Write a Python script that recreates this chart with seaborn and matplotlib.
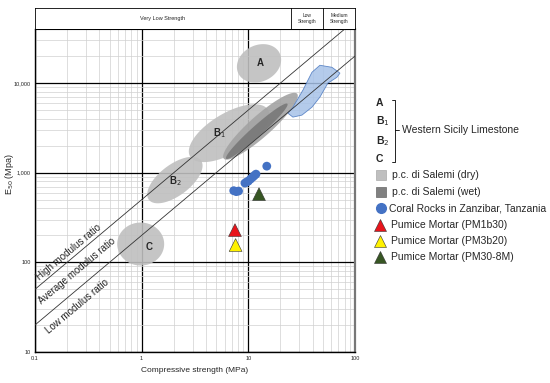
import numpy as np
import pandas as pd
import matplotlib
matplotlib.use("Agg")
import matplotlib.pyplot as plt
from matplotlib.patches import Rectangle
from matplotlib.lines import Line2D
import seaborn as sns

# limestone zones in log space: label, centre UCS, centre E, semi-axes (decades), angle
zone_labels = ["A", "B$_1$", "B$_2$", "C"]
zone_ucs = [12.6, 6.6, 2.05, 0.98]
zone_e = [16600, 2760, 828, 160]
zone_a = [0.23, 0.45, 0.33, 0.24]
zone_b = [0.19, 0.21, 0.16, 0.22]
zone_ang = [50, 38, 45, 90]
# label shift relative to zone centre (multiplicative)
label_dx = [1.02, 0.82, 1.0, 1.2]
label_dy = [1.0, 1.0, 0.98, 0.93]

# p.c. di Salemi (wet) zones
wet_ucs = [13.0, 12.0]
wet_e = [3300, 2900]
wet_a = [0.5, 0.42]
wet_b = [0.11, 0.055]
wet_ang = [47, 47]
wet_colors = ["#a3a3a3", "#787878"]

# blue outlined field
field_ucs = [23.5, 26.2, 32.5, 39.5, 46.9, 60.8, 72.3, 67.7, 55.7, 46.9, 39.5, 31.8, 26.2]
field_e = [4610, 5380, 8340, 13200, 15800, 15000, 12900, 11600, 9980, 6970, 5380, 4390, 4170]

# coral rocks
coral_ucs = [7.3, 7.7, 8.1, 9.3, 9.7, 10.0, 10.5, 11.0, 11.4, 11.8, 14.9]
coral_e = [630, 615, 624, 766, 790, 805, 850, 893, 930, 964, 1183]

# pumice mortars
mortar_names = ["PM1b30", "PM3b20", "PM30-8M"]
mortar_ucs = [7.5, 7.6, 12.6]
mortar_e = [229, 156, 577]
mortar_colors = ["#e8141b", "#fff200", "#375623"]

# modulus ratio lines
ratio_vals = [500, 200]

df_coral = pd.DataFrame({"ucs": coral_ucs, "E": coral_e})
df_mortar = pd.DataFrame({"ucs": mortar_ucs, "E": mortar_e, "name": mortar_names})

sns.set_style("white")
plt.rcParams["font.family"] = ["Liberation Sans", "DejaVu Sans"]

W, H = 550, 383
fig = plt.figure(figsize=(5.5, 3.83), dpi=100)
ax = fig.add_axes([0.0636, 0.081, 0.5818, 0.843])
ax.set_xscale("log")
ax.set_yscale("log")
ax.set_xlim(0.1, 100)
ax.set_ylim(10, 40000)

ax.grid(True, which="minor", color="#d0d0d0", lw=0.5)
ax.grid(True, which="major", color="black", lw=0.9)
ax.set_axisbelow(True)


def ellipse_pts(cx, cy, a, b, ang):
    t = np.linspace(0, 2 * np.pi, 100)
    th = np.deg2rad(ang)
    lx = np.log10(cx) + a * np.cos(t) * np.cos(th) - b * np.sin(t) * np.sin(th)
    ly = np.log10(cy) + a * np.cos(t) * np.sin(th) + b * np.sin(t) * np.cos(th)
    return 10 ** lx, 10 ** ly


for i, lab in enumerate(zone_labels):
    xs, ys = ellipse_pts(zone_ucs[i], zone_e[i], zone_a[i], zone_b[i], zone_ang[i])
    ax.fill(xs, ys, color="#bfbfbf", alpha=0.9, lw=0, zorder=2)
    ax.text(zone_ucs[i] * label_dx[i], zone_e[i] * label_dy[i], lab, fontsize=7,
            fontweight="bold", ha="center", va="center", zorder=5)

for i in range(len(wet_ucs)):
    xs, ys = ellipse_pts(wet_ucs[i], wet_e[i], wet_a[i], wet_b[i], wet_ang[i])
    ax.fill(xs, ys, color=wet_colors[i], alpha=0.9, lw=0, zorder=2)

ax.fill(field_ucs, field_e, facecolor="#a7c2e8", edgecolor="#4a78c0", alpha=0.85,
        lw=0.6, zorder=3)

xline = np.array([0.1, 100])
for r in ratio_vals:
    ax.plot(xline, r * xline, color="#333333", lw=0.6, zorder=4)

ax.text(0.115, 60, "High modulus ratio", rotation=40, rotation_mode="anchor",
        fontsize=7, ha="left", va="bottom")
ax.text(0.118, 33, "Average modulus ratio", rotation=40, rotation_mode="anchor",
        fontsize=7, ha="left", va="bottom")
ax.text(0.122, 18.5, "Low modulus ratio", rotation=40, rotation_mode="anchor",
        fontsize=7, ha="left", va="top")

sns.scatterplot(data=df_coral, x="ucs", y="E", ax=ax, color="#4472c4", s=40,
                edgecolor="none", zorder=6, legend=False)
sns.scatterplot(data=df_mortar, x="ucs", y="E", hue="name", palette=mortar_colors,
                marker="^", s=85, edgecolor="#333333", linewidth=0.4, ax=ax,
                zorder=7, legend=False)

ax.set_xticks([0.1, 1, 10, 100])
ax.set_xticklabels(["0.1", "1", "10", "100"])
ax.set_yticks([10, 100, 1000, 10000])
ax.set_yticklabels(["10", "100", "1,000", "10,000"])
ax.tick_params(axis="both", which="both", labelsize=4, length=0, pad=3)
ax.set_xlabel("Compressive strength (MPa)", fontsize=6, labelpad=4)
ax.set_ylabel("E$_{50}$ (Mpa)", fontsize=6.5)
ax.yaxis.set_label_coords((16 - 35) / 320, (352 - 174) / 323)
for s in ["left", "bottom"]:
    ax.spines[s].set_color("black")
    ax.spines[s].set_linewidth(1)
ax.spines["top"].set_color("black")
ax.spines["top"].set_linewidth(0.8)
ax.spines["right"].set_color("#777777")
ax.spines["right"].set_linewidth(1.6)

# strength header band
hax = fig.add_axes([0.0636, 0.924, 0.5818, 0.055], sharex=ax)
hax.set_ylim(0, 1)
for b in [25, 50]:
    hax.axvline(b, color="black", lw=0.6)
hax.text(np.sqrt(0.1 * 25), 0.5, "Very Low Strength", fontsize=4, ha="center", va="center")
hax.text(np.sqrt(25 * 50), 0.5, "Low\nStrength", fontsize=3.5, ha="center", va="center")
hax.text(np.sqrt(50 * 100), 0.5, "Medium\nStrength", fontsize=3.5, ha="center", va="center")
hax.tick_params(left=False, bottom=False, labelleft=False, labelbottom=False)
hax.grid(False)
for s in hax.spines.values():
    s.set_color("black")
    s.set_linewidth(0.6)


# legend drawn by hand, in pixel positions
def fx(px):
    return px / W


def fy(py):
    return 1 - py / H


for lab, py in zip(["A", "B$_1$", "B$_2$", "C"], [103, 121, 141, 159]):
    fig.text(fx(376), fy(py), lab, fontsize=7.5, fontweight="bold", ha="left", va="center")
fig.add_artist(Line2D([fx(392), fx(395), fx(395), fx(392)],
                      [fy(100), fy(100), fy(162), fy(162)], color="black", lw=0.6))
fig.add_artist(Line2D([fx(395), fx(399)], [fy(130), fy(130)], color="black", lw=0.6))
fig.text(fx(402), fy(130), "Western Sicily Limestone", fontsize=7.5, ha="left", va="center")

fig.add_artist(Rectangle((fx(376), fy(180)), fx(10), 10 / H, facecolor="#bfbfbf",
                         edgecolor="#aaaaaa", lw=0.5))
fig.text(fx(392), fy(175), "p.c. di Salemi (dry)", fontsize=7.5, ha="left", va="center")
fig.add_artist(Rectangle((fx(376), fy(197)), fx(10), 10 / H, facecolor="#808080",
                         edgecolor="#666666", lw=0.5))
fig.text(fx(392), fy(192), "p.c. di Salemi (wet)", fontsize=7.5, ha="left", va="center")
fig.add_artist(Line2D([fx(381)], [fy(208)], marker="o", ms=7, color="#4472c4", mec="#4472c4"))
fig.text(fx(389), fy(208), "Coral Rocks in Zanzibar, Tanzania", fontsize=7.5,
         ha="left", va="center")
for name, col, py in zip(mortar_names, mortar_colors, [225, 241, 257]):
    fig.add_artist(Line2D([fx(380)], [fy(py)], marker="^", ms=8, color=col,
                          mec="#333333", mew=0.4))
    fig.text(fx(391), fy(py), "Pumice Mortar (" + name + ")", fontsize=7.5,
             ha="left", va="center")

fig.savefig("out.png", dpi=100)
